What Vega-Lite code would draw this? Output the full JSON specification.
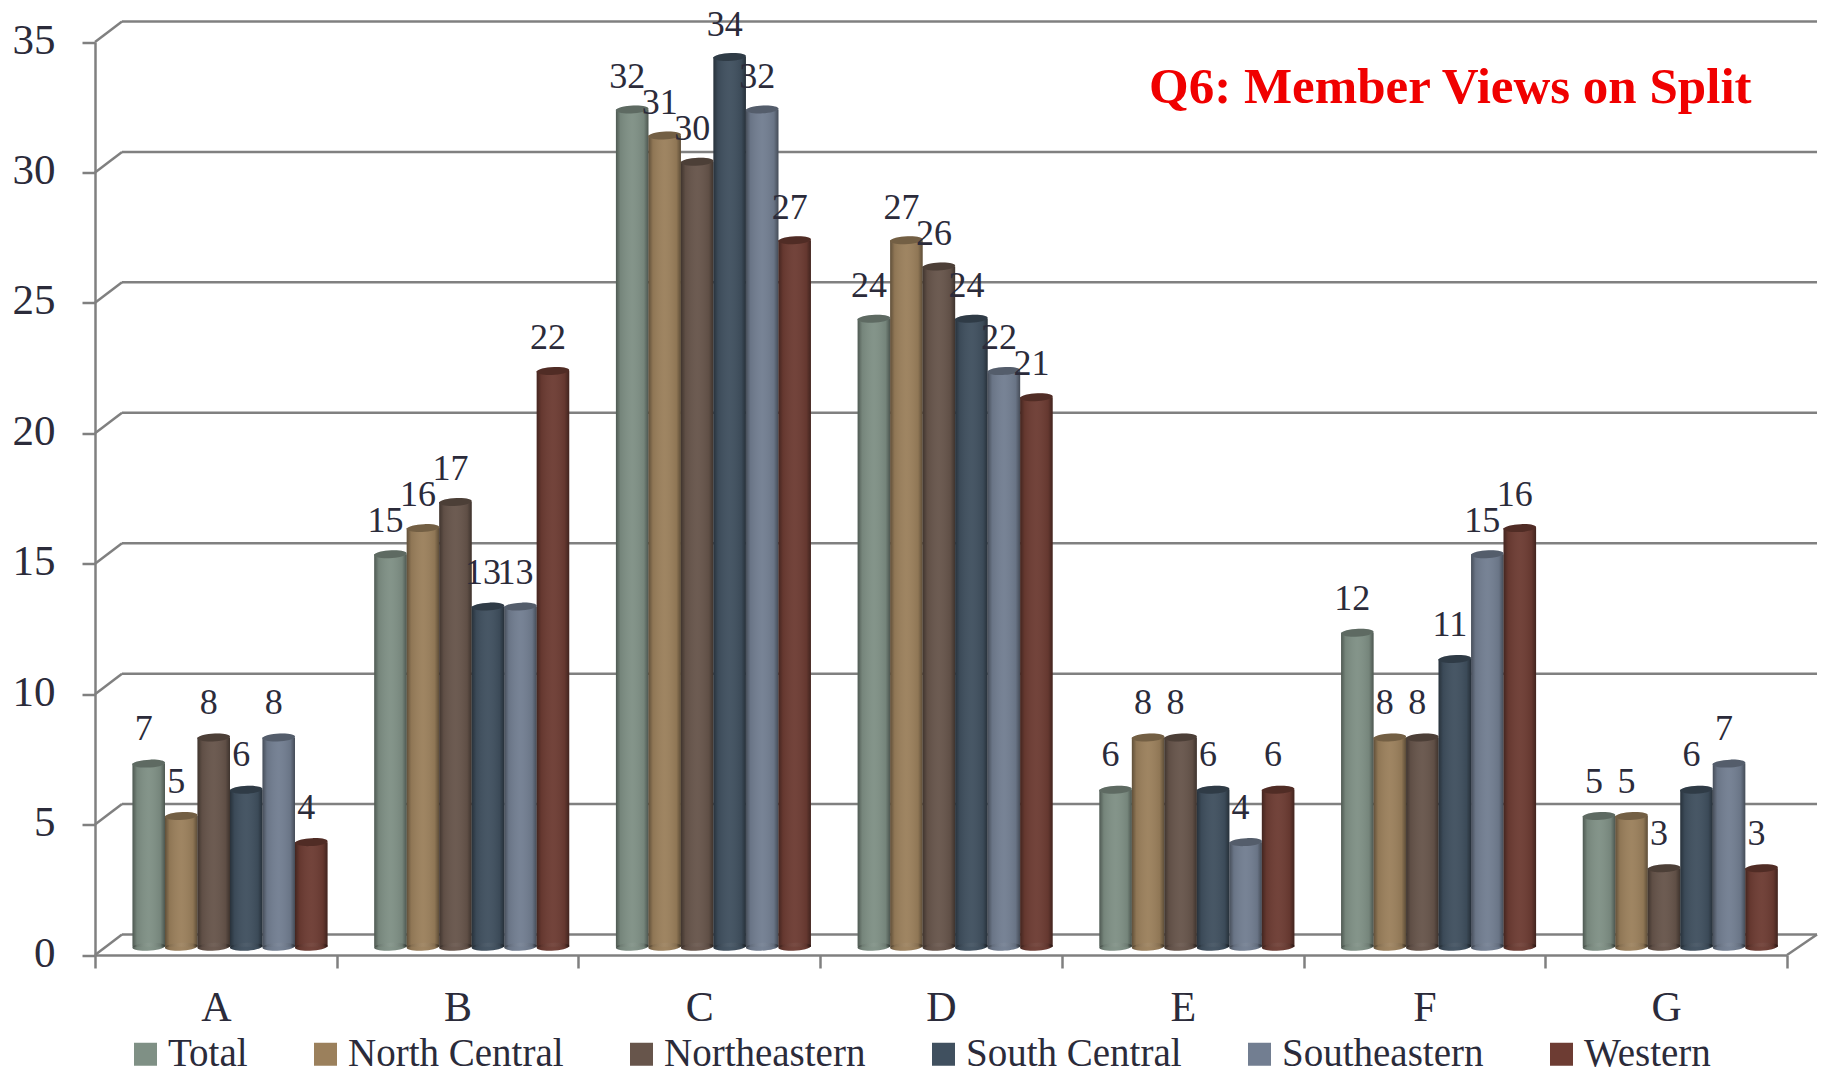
{
"$schema":"https://vega.github.io/schema/vega-lite/v6.json",
"width":1722,"height":934.5,
"autosize":{"type":"none"},
"padding":{"left":95,"top":20.5,"right":7,"bottom":118},
"background":"white",
"title":{"text":"Q6: Member Views on Split","anchor":"start","frame":"group","orient":"top","offset":0,"dx":1054,"dy":147,"baseline":"alphabetic","font":"Liberation Serif","fontWeight":"bold","fontSize":51,"color":"#f00000"},
"datasets":{
"ticks":[{"v":0},{"v":5},{"v":10},{"v":15},{"v":20},{"v":25},{"v":30},{"v":35}],
"floor":[{"v":0}],
"rows":[
{"c":"A","s":"Total","v":7},{"c":"A","s":"North Central","v":5},{"c":"A","s":"Northeastern","v":8},{"c":"A","s":"South Central","v":6},{"c":"A","s":"Southeastern","v":8},{"c":"A","s":"Western","v":4},
{"c":"B","s":"Total","v":15},{"c":"B","s":"North Central","v":16},{"c":"B","s":"Northeastern","v":17},{"c":"B","s":"South Central","v":13},{"c":"B","s":"Southeastern","v":13},{"c":"B","s":"Western","v":22},
{"c":"C","s":"Total","v":32},{"c":"C","s":"North Central","v":31},{"c":"C","s":"Northeastern","v":30},{"c":"C","s":"South Central","v":34},{"c":"C","s":"Southeastern","v":32},{"c":"C","s":"Western","v":27},
{"c":"D","s":"Total","v":24},{"c":"D","s":"North Central","v":27},{"c":"D","s":"Northeastern","v":26},{"c":"D","s":"South Central","v":24},{"c":"D","s":"Southeastern","v":22},{"c":"D","s":"Western","v":21},
{"c":"E","s":"Total","v":6},{"c":"E","s":"North Central","v":8},{"c":"E","s":"Northeastern","v":8},{"c":"E","s":"South Central","v":6},{"c":"E","s":"Southeastern","v":4},{"c":"E","s":"Western","v":6},
{"c":"F","s":"Total","v":12},{"c":"F","s":"North Central","v":8},{"c":"F","s":"Northeastern","v":8},{"c":"F","s":"South Central","v":11},{"c":"F","s":"Southeastern","v":15},{"c":"F","s":"Western","v":16},
{"c":"G","s":"Total","v":5},{"c":"G","s":"North Central","v":5},{"c":"G","s":"Northeastern","v":3},{"c":"G","s":"South Central","v":6},{"c":"G","s":"Southeastern","v":7},{"c":"G","s":"Western","v":3}
]},
"data":{"name":"rows"},
"config":{"view":{"stroke":null},"font":"Liberation Serif"},
"resolve":{"scale":{"y":"independent"},"axis":{"y":"independent"}},
"encoding":{
"x":{"field":"c","type":"nominal","scale":{"range":[0,1692],"paddingInner":0,"paddingOuter":0},
"axis":{"title":null,"labelAngle":0,"tickBand":"extent","domainColor":"#808080","domainWidth":2.5,"tickColor":"#808080","tickWidth":2.5,"tickSize":13,"labelPadding":19,"labelFont":"Liberation Serif","labelFontSize":42,"labelColor":"#2b2b3a","labelBaseline":"top"}},
"xOffset":{"field":"s","type":"nominal","sort":["Total","North Central","Northeastern","South Central","Southeastern","Western"],"scale":{"range":[37.5,232.5],"paddingInner":0,"paddingOuter":0}}
},
"layer":[
{"data":{"name":"ticks"},"mark":{"type":"rule","color":"#808080","strokeWidth":2.5,"yOffset":-20.5},"encoding":{"x":{"value":27},"x2":{"value":1722},"y":{"field":"v","type":"quantitative","scale":{"domain":[0,35],"range":[934.5,21.5]},"axis":null},"xOffset":null}},
{"data":{"name":"ticks"},"mark":{"type":"rule","color":"#808080","strokeWidth":2.5,"yOffset":0,"y2Offset":-20.5},"encoding":{"x":{"value":0},"x2":{"value":27},"y":{"field":"v","type":"quantitative","scale":{"domain":[0,35],"range":[934.5,21.5]},"axis":{"title":null,"values":[0,5,10,15,20,25,30,35],"grid":false,"domainColor":"#808080","domainWidth":2.5,"tickColor":"#808080","tickWidth":2.5,"tickSize":13,"labelPadding":27,"labelOffset":-2,"labelFont":"Liberation Serif","labelFontSize":43,"labelColor":"#2b2b3a"}},"y2":{"field":"v"},"xOffset":null}},
{"data":{"name":"floor"},"mark":{"type":"rule","color":"#808080","strokeWidth":2.5,"yOffset":0,"y2Offset":-20.5},"encoding":{"x":{"value":1692},"x2":{"value":1722},"y":{"field":"v","type":"quantitative","scale":{"domain":[0,35],"range":[934.5,21.5]},"axis":null},"y2":{"field":"v"},"xOffset":null}},
{"mark":{"type":"point","filled":true,"opacity":1,"size":1056,"shape":"M-1,0.03 A1,0.24 -3 1 1 1,-0.03 A1,0.24 -3 1 1 -1,0.03 Z"},"encoding":{"y":{"datum":0,"type":"quantitative","scale":{"domain":[0,35],"range":[926.3,10.4]},"axis":null},"color":{"field":"s","type":"nominal"}}},
{"mark":{"type":"bar","width":32.5},"encoding":{"y":{"field":"v","type":"quantitative","scale":{"domain":[0,35],"range":[926.3,10.4]},"axis":null},"color":{"field":"s","type":"nominal","sort":["Total","North Central","Northeastern","South Central","Southeastern","Western"],"scale":{"domain":["Total","North Central","Northeastern","South Central","Southeastern","Western"],"range":["#7f9085","#9b805c","#67554b","#40505f","#727e91","#6d3c33"]},"legend":{"title":null,"orient":"none","legendX":31,"legendY":1014,"direction":"horizontal","columns":6,"columnPadding":58,"symbolType":"square","symbolSize":529,"symbolStrokeWidth":0,"labelFont":"Liberation Serif","labelFontSize":39,"labelColor":"#2b2b3a","labelOffset":3,"labelLimit":400}}}},
{"mark":{"type":"bar","width":32.5,"fill":{"gradient":"linear","x1":0,"y1":0,"x2":1,"y2":0,"stops":[{"offset":0,"color":"rgba(0,0,0,0.38)"},{"offset":0.14,"color":"rgba(0,0,0,0.08)"},{"offset":0.5,"color":"rgba(255,255,255,0.04)"},{"offset":0.86,"color":"rgba(0,0,0,0.08)"},{"offset":1,"color":"rgba(0,0,0,0.4)"}]}},"encoding":{"y":{"field":"v","type":"quantitative","scale":{"domain":[0,35],"range":[926.3,10.4]},"axis":null}}},
{"mark":{"type":"point","opacity":1,"size":1056,"strokeWidth":0,"fillOpacity":1,"filled":true,"fill":{"gradient":"linear","x1":0,"y1":0,"x2":1,"y2":0,"stops":[{"offset":0,"color":"rgba(0,0,0,0.38)"},{"offset":0.14,"color":"rgba(0,0,0,0.08)"},{"offset":0.5,"color":"rgba(255,255,255,0.04)"},{"offset":0.86,"color":"rgba(0,0,0,0.08)"},{"offset":1,"color":"rgba(0,0,0,0.4)"}]},"shape":"M-1,0.03 A1,0.24 -3 1 1 1,-0.03 A1,0.24 -3 1 1 -1,0.03 Z"},"encoding":{"y":{"datum":0,"type":"quantitative","scale":{"domain":[0,35],"range":[926.3,10.4]},"axis":null}}},
{"mark":{"type":"point","filled":true,"opacity":1,"size":1056,"shape":"M-1,0.03 A1,0.24 -3 1 1 1,-0.03 A1,0.24 -3 1 1 -1,0.03 Z"},"encoding":{"y":{"field":"v","type":"quantitative","scale":{"domain":[0,35],"range":[926.3,10.4]},"axis":null},"color":{"field":"s","type":"nominal"}}},
{"mark":{"type":"point","filled":true,"opacity":1,"fill":"rgba(0,0,0,0.26)","size":1056,"shape":"M-1,0.03 A1,0.24 -3 1 1 1,-0.03 A1,0.24 -3 1 1 -1,0.03 Z"},"encoding":{"y":{"field":"v","type":"quantitative","scale":{"domain":[0,35],"range":[926.3,10.4]},"axis":null}}},
{"mark":{"type":"text","font":"Liberation Serif","fontSize":36,"color":"#2b2b3a","baseline":"alphabetic","dx":-5,"dy":-32},"encoding":{"y":{"field":"v","type":"quantitative","scale":{"domain":[0,35],"range":[934.5,21.5]},"axis":null},"text":{"field":"v","type":"quantitative"}}}
]
}
